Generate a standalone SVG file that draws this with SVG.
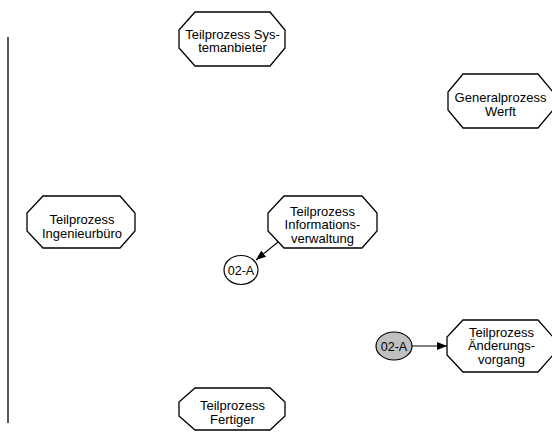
<svg xmlns="http://www.w3.org/2000/svg" width="552" height="433" viewBox="0 0 552 433">
<style>
.oct{fill:#fff;stroke:#000;stroke-width:1.3}
.t{font-family:"Liberation Sans",Arial,sans-serif;font-size:13px;fill:#000;text-anchor:middle}
.c{stroke:#000;stroke-width:1.2}
.con{stroke:#000;stroke-width:1.1;fill:none}
</style>
<defs>
<marker id="ah" markerWidth="10" markerHeight="8" refX="10" refY="4" orient="auto" markerUnits="userSpaceOnUse">
<path d="M0,0 L10,4 L0,8 z" fill="#000"/>
</marker>
</defs>
<line x1="8" y1="37" x2="8" y2="423" stroke="#000" stroke-width="1.3"/>
<g id="systemanbieter">
<polygon class="oct" points="195,12 270,12 285,30 285,48 270,66 195,66 179,48 179,30"/>
<text class="t" x="232.5" y="38.5">Teilprozess Sys-</text>
<text class="t" x="232.5" y="52">temanbieter</text>
</g>
<g id="werft">
<polygon class="oct" points="463,74 538,74 553,92 553,110 538,128 463,128 448,110 448,92"/>
<text class="t" x="500.5" y="102.3">Generalprozess</text>
<text class="t" x="500.5" y="115.7">Werft</text>
</g>
<g id="ingenieurbuero">
<polygon class="oct" points="43,196 120,196 135,213 135,231 120,248 43,248 27,231 27,213"/>
<text class="t" x="82" y="224.3">Teilprozess</text>
<text class="t" x="82" y="237.5">Ingenieurbüro</text>
</g>
<g id="informationsverwaltung">
<polygon class="oct" points="284,196 362,196 377,213 377,231 362,248 284,248 268,231 268,213"/>
<text class="t" x="322.5" y="215.7">Teilprozess</text>
<text class="t" x="322.5" y="229">Informations-</text>
<text class="t" x="322.5" y="242.5">verwaltung</text>
</g>
<g id="aenderungsvorgang">
<polygon class="oct" points="463,320 538,320 553,337 553,355 538,372 463,372 447,355 447,337"/>
<text class="t" x="501.5" y="336.7">Teilprozess</text>
<text class="t" x="501.5" y="350">Änderungs-</text>
<text class="t" x="501.5" y="363.5">vorgang</text>
</g>
<g id="fertiger">
<polygon class="oct" points="195,388 270,388 285,402 285,416 270,430 195,430 179,416 179,402"/>
<text class="t" x="232.5" y="410">Teilprozess</text>
<text class="t" x="232.5" y="423.5">Fertiger</text>
</g>
<g id="conn-02a-out">
<ellipse class="c" cx="241" cy="270" rx="17" ry="14.5" fill="#fff"/>
<text class="t" x="241" y="274.5" style="font-size:12.5px">02-A</text>
</g>
<g id="conn-02a-in">
<ellipse class="c" cx="394" cy="346" rx="18" ry="14" fill="#c0c0c0"/>
<text class="t" x="394" y="350.5" style="font-size:12.5px">02-A</text>
</g>
<g id="connectors">
<line class="con" x1="278" y1="242" x2="256" y2="260" marker-end="url(#ah)"/>
<line class="con" x1="412" y1="346" x2="447" y2="346" marker-end="url(#ah)"/>
</g>
</svg>
